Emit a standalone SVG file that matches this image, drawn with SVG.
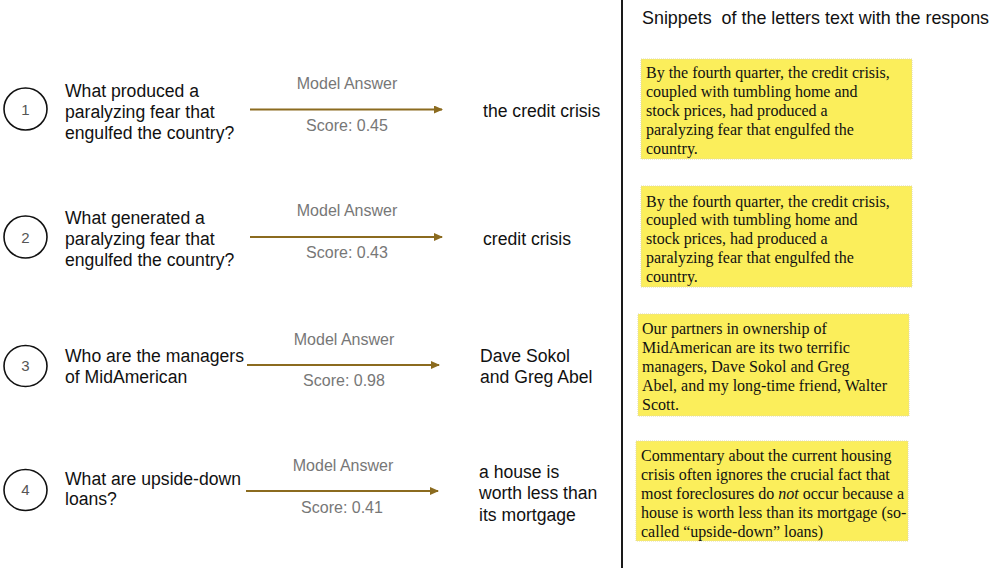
<svg xmlns="http://www.w3.org/2000/svg" width="989" height="568" viewBox="0 0 989 568">
<style>
.q{font-family:"Liberation Sans",Arial,sans-serif;font-size:17.6px;fill:#111}
.t{font-family:"Liberation Sans",Arial,sans-serif;font-size:17.9px;fill:#111}
.lab{font-family:"Liberation Sans",Arial,sans-serif;font-size:16px;fill:#777;text-anchor:middle}
.num{font-family:"Liberation Sans",Arial,sans-serif;font-size:15px;fill:#555;text-anchor:middle;dominant-baseline:central}
.c{fill:none;stroke:#111;stroke-width:1.6}
.box{fill:#fbee5b;stroke:#e0d9a8;stroke-width:1;stroke-dasharray:1 1}
.sn{font-family:"Liberation Serif","Times New Roman",serif;font-size:16px;fill:#111}
.arr{stroke:#8b6b1f;stroke-width:1.8;fill:none;marker-end:url(#ah)}
</style>
<defs>
<marker id="ah" markerWidth="10" markerHeight="10" refX="8" refY="4" orient="auto" markerUnits="userSpaceOnUse">
<path d="M0,0 L9,4 L0,8 Z" fill="#8b6b1f"/>
</marker>
</defs>
<rect width="989" height="568" fill="#fff"/>
<line x1="622" y1="0" x2="622" y2="568" stroke="#1a1a1a" stroke-width="2"/>
<text class="t" x="642" y="24" xml:space="preserve">Snippets  of the letters text with the respons</text>

<g id="connectors">
<line class="arr" x1="250" y1="109.5" x2="442" y2="109.5"/>
<line class="arr" x1="250" y1="237" x2="442" y2="237"/>
<line class="arr" x1="247" y1="365" x2="439" y2="365"/>
<line class="arr" x1="246" y1="491" x2="438" y2="491"/>
</g>

<g id="row1">
<ellipse class="c" cx="25.5" cy="109" rx="21.5" ry="21"/>
<text class="num" x="25.5" y="109">1</text>
<text class="q" x="65" y="97">What produced a</text>
<text class="q" x="65" y="118">paralyzing fear that</text>
<text class="q" x="65" y="139">engulfed the country?</text>
<text class="lab" x="347" y="89">Model Answer</text>
<text class="lab" x="347" y="131">Score: 0.45</text>
<text class="q" x="483" y="117">the credit crisis</text>
</g>

<g id="row2">
<ellipse class="c" cx="25.5" cy="237" rx="21.5" ry="21"/>
<text class="num" x="25.5" y="237">2</text>
<text class="q" x="65" y="224">What generated a</text>
<text class="q" x="65" y="245">paralyzing fear that</text>
<text class="q" x="65" y="266">engulfed the country?</text>
<text class="lab" x="347" y="216">Model Answer</text>
<text class="lab" x="347" y="258">Score: 0.43</text>
<text class="q" x="483" y="245">credit crisis</text>
</g>

<g id="row3">
<ellipse class="c" cx="25.5" cy="366" rx="21.5" ry="20.5"/>
<text class="num" x="25.5" y="365">3</text>
<text class="q" x="65" y="362">Who are the managers</text>
<text class="q" x="65" y="383">of MidAmerican</text>
<text class="lab" x="344" y="345">Model Answer</text>
<text class="lab" x="344" y="386">Score: 0.98</text>
<text class="q" x="480" y="362">Dave Sokol</text>
<text class="q" x="480" y="383">and Greg Abel</text>
</g>

<g id="row4">
<ellipse class="c" cx="25.5" cy="490" rx="21.5" ry="20.5"/>
<text class="num" x="25.5" y="489">4</text>
<text class="q" x="65" y="485">What are upside-down</text>
<text class="q" x="65" y="505">loans?</text>
<text class="lab" x="343" y="471">Model Answer</text>
<text class="lab" x="342" y="513">Score: 0.41</text>
<text class="q" x="479" y="478">a house is</text>
<text class="q" x="479" y="499">worth less than</text>
<text class="q" x="479" y="521">its mortgage</text>
</g>

<g id="snippet1">
<rect class="box" x="641" y="59" width="271" height="100"/>
<text class="sn" x="646" y="78">By the fourth quarter, the credit crisis,</text>
<text class="sn" x="646" y="97">coupled with tumbling home and</text>
<text class="sn" x="646" y="116">stock prices, had produced a</text>
<text class="sn" x="646" y="135">paralyzing fear that engulfed the</text>
<text class="sn" x="646" y="154">country.</text>
</g>

<g id="snippet2">
<rect class="box" x="641" y="186" width="271" height="101"/>
<text class="sn" x="646" y="207">By the fourth quarter, the credit crisis,</text>
<text class="sn" x="646" y="225">coupled with tumbling home and</text>
<text class="sn" x="646" y="244">stock prices, had produced a</text>
<text class="sn" x="646" y="263">paralyzing fear that engulfed the</text>
<text class="sn" x="646" y="282">country.</text>
</g>

<g id="snippet3">
<rect class="box" x="638" y="314" width="271" height="102"/>
<text class="sn" x="642" y="334">Our partners in ownership of</text>
<text class="sn" x="642" y="353">MidAmerican are its two terrific</text>
<text class="sn" x="642" y="372">managers, Dave Sokol and Greg</text>
<text class="sn" x="642" y="391">Abel, and my long-time friend, Walter</text>
<text class="sn" x="642" y="410">Scott.</text>
</g>

<g id="snippet4">
<rect class="box" x="636" y="441" width="272" height="100"/>
<text class="sn" x="641" y="461">Commentary about the current housing</text>
<text class="sn" x="641" y="480">crisis often ignores the crucial fact that</text>
<text class="sn" x="641" y="499">most foreclosures do <tspan font-style="italic">not</tspan> occur because a</text>
<text class="sn" x="641" y="518">house is worth less than its mortgage (so-</text>
<text class="sn" x="641" y="537">called “upside-down” loans)</text>
</g>
</svg>
